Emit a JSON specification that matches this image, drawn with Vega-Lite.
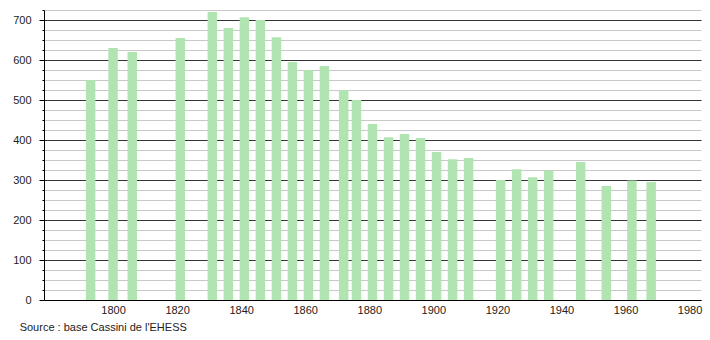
{
  "$schema": "https://vega.github.io/schema/vega-lite/v6.json",
  "autosize": {"type": "none"},
  "width": 657,
  "height": 290,
  "padding": {"left": 44, "top": 10, "right": 9, "bottom": 40},
  "background": "white",
  "config": {
    "view": {"stroke": null},
    "font": "Liberation Sans",
    "axis": {"labelFont": "Liberation Sans", "labelFontSize": 11, "labelColor": "#222"}
  },
  "title": {
    "text": "Source : base Cassini de l'EHESS",
    "orient": "bottom",
    "anchor": "start",
    "fontSize": 11,
    "fontWeight": "normal",
    "font": "Liberation Sans",
    "color": "#222",
    "offset": 7,
    "dx": 7
  },
  "data": {
    "values": [
      {"year": 1793, "pop": 550},
      {"year": 1800, "pop": 630},
      {"year": 1806, "pop": 620},
      {"year": 1821, "pop": 655},
      {"year": 1831, "pop": 720},
      {"year": 1836, "pop": 680},
      {"year": 1841, "pop": 707},
      {"year": 1846, "pop": 700},
      {"year": 1851, "pop": 657},
      {"year": 1856, "pop": 595},
      {"year": 1861, "pop": 575},
      {"year": 1866, "pop": 585},
      {"year": 1872, "pop": 525},
      {"year": 1876, "pop": 500},
      {"year": 1881, "pop": 440},
      {"year": 1886, "pop": 407},
      {"year": 1891, "pop": 415},
      {"year": 1896, "pop": 405},
      {"year": 1901, "pop": 370},
      {"year": 1906, "pop": 352},
      {"year": 1911, "pop": 355},
      {"year": 1921, "pop": 300},
      {"year": 1926, "pop": 327},
      {"year": 1931, "pop": 307},
      {"year": 1936, "pop": 324},
      {"year": 1946, "pop": 345},
      {"year": 1954, "pop": 285},
      {"year": 1962, "pop": 299},
      {"year": 1968, "pop": 295}
    ]
  },
  "mark": {"type": "bar", "width": 9.5, "color": "#b0e4b0", "opacity": 1},
  "encoding": {
    "x": {
      "field": "year",
      "type": "quantitative",
      "scale": {"domain": [1780, 1982], "nice": false, "zero": false},
      "axis": {
        "title": null,
        "values": [1800, 1820, 1840, 1860, 1880, 1900, 1920, 1940, 1960, 1980],
        "format": "d",
        "ticks": false,
        "grid": false,
        "labelPadding": 4,
        "domainColor": "#000",
        "domainWidth": 1,
        "labelFlush": false
      }
    },
    "y": {
      "field": "pop",
      "type": "quantitative",
      "scale": {"domain": [0, 725], "nice": false},
      "axis": {
        "title": null,
        "values": [0, 25, 50, 75, 100, 125, 150, 175, 200, 225, 250, 275, 300, 325, 350, 375, 400, 425, 450, 475, 500, 525, 550, 575, 600, 625, 650, 675, 700, 725],
        "labelExpr": "datum.value % 100 === 0 ? datum.label : ''",
        "grid": true,
        "gridColor": {"condition": {"test": "datum.value % 100 === 0", "value": "#333"}, "value": "#c8c8c8"},
        "gridWidth": 1,
        "tickColor": "#000",
        "tickSize": {"condition": {"test": "datum.value % 100 === 0", "value": 5}, "value": 2},
        "labelPadding": 8,
        "domainColor": "#000",
        "labelFlush": false
      }
    }
  }
}
